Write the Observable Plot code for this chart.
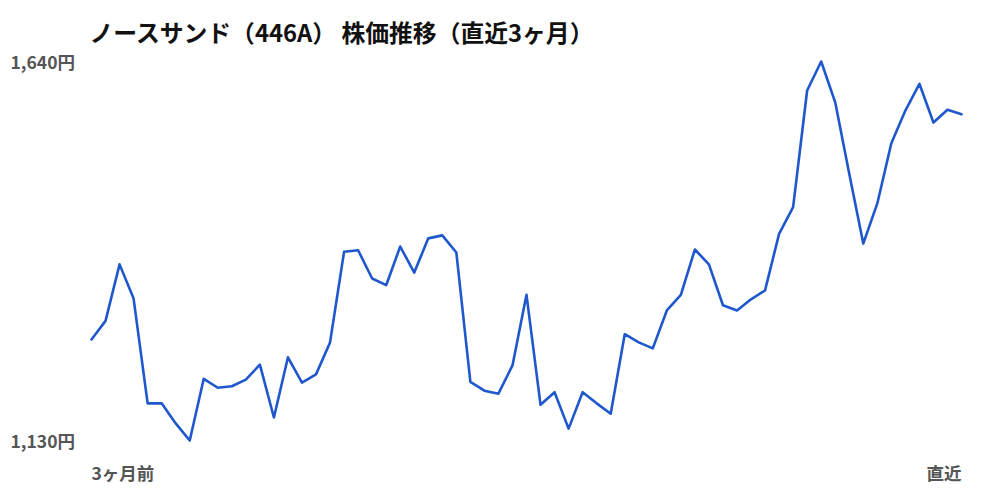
<!DOCTYPE html>
<html><head><meta charset="utf-8">
<script src="https://cdn.jsdelivr.net/npm/d3@7"></script>
<script src="https://cdn.jsdelivr.net/npm/@observablehq/plot@0.6"></script>
<style>body{margin:0;background:#fff;} svg{display:block;}</style>
</head><body><div id="chart"></div>
<script>
const titleText = "ノースサンド（446A） 株価推移（直近3ヶ月）";
const prices = [1266,1291,1367,1321,1180,1180,1153,1130,1213,1201,1203,1212,1232,1161,1242,1208,1219,1262,1384,1386,
  1348,1339,1391,1356,1402,1406,1383,1209,1197,1193,1231,1326,1178,1195,1146,1195,1180,1166,1273,1262,
  1254,1305,1326,1387,1367,1312,1305,1320,1332,1408,1444,1601,1640,1585,1489,1395,1449,1530,1574,1610,
  1558,1575,1569];
const yTicks = [1130, 1640];
const xLabels = ["3ヶ月前", "直近"];
const data = prices.map((p, i) => ({i, p}));
const font = "'Noto Sans CJK JP', 'Noto Sans', sans-serif";
const n = prices.length - 1;
const chart = Plot.plot({
  width: 1000, height: 500,
  marginTop: 61, marginBottom: 60, marginLeft: 91, marginRight: 39,
  style: {fontFamily: font, background: "#fff"},
  x: {domain: [0, n], axis: null},
  y: {domain: [1130, 1640], axis: null},
  marks: [
    Plot.axisY({ticks: yTicks, label: null, tickSize: 0, tickPadding: 0, textAnchor: "start", dx: -81, dy: 1.5,
      tickFormat: d => d3.format(",")(d) + "円", fontSize: 17.5, fontWeight: 700, fill: "#555"}),
    Plot.line(data, {x: "i", y: "p", stroke: "#1f57cc", strokeWidth: 2.6, strokeLinejoin: "round"}),
    Plot.text([xLabels[0]], {x: [0], frameAnchor: "bottom", lineAnchor: "middle", dy: 34, textAnchor: "start", fontSize: 17.5, fontWeight: 700, fill: "#555", text: d => d}),
    Plot.text([xLabels[1]], {x: [n], frameAnchor: "bottom", lineAnchor: "middle", dy: 34, textAnchor: "end", fontSize: 17.5, fontWeight: 700, fill: "#555", text: d => d}),
    Plot.text([titleText], {frameAnchor: "top-left", lineAnchor: "middle", dx: -2, dy: -27, textAnchor: "start", fontSize: 23.8, fontWeight: 700, fill: "#111", text: d => d})
  ]
});
document.getElementById("chart").appendChild(chart);
</script></body></html>
